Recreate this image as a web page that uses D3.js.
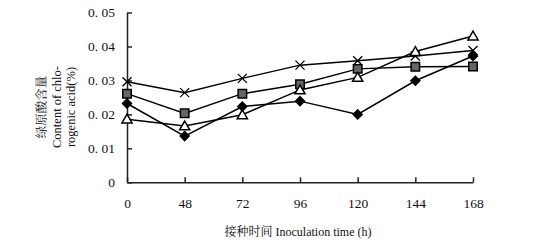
<!DOCTYPE html>
<html>
<head>
<meta charset="utf-8">
<script src="https://cdn.jsdelivr.net/npm/d3@7"></script>
<style>
  body { margin: 0; background: #fff; }
  text { font-family: "Liberation Serif", "Noto Serif CJK SC", "Noto Sans CJK SC", serif; fill: #111; }
</style>
</head>
<body>
<svg id="chart" width="536" height="247"></svg>
<script>
// inoculation time (h)
const hours = ['0', '48', '72', '96', '120', '144', '168']
const yTicks = [0, 0.01, 0.02, 0.03, 0.04, 0.05]

// chlorogenic acid content (%) for the four treatments
const crossSeries    = [0.0296, 0.0264, 0.0306, 0.0345, 0.0358, 0.0372, 0.0388]
const squareSeries   = [0.0261, 0.0203, 0.0261, 0.0289, 0.0334, 0.0340, 0.0341]
const diamondSeries  = [0.0232, 0.0136, 0.0223, 0.0239, 0.0200, 0.0299, 0.0372]
const triangleSeries = [0.0186, 0.0166, 0.0199, 0.0272, 0.0309, 0.0385, 0.0431]

const margin = {top: 12.5, left: 127, right: 63, bottom: 64.7}
const width = 536 - margin.left - margin.right
const height = 247 - margin.top - margin.bottom

const svg = d3.select('#chart')
const chart = svg.append('g')
  .attr('transform', `translate(${margin.left}, ${margin.top})`)

const xScale = d3.scalePoint()
  .domain(hours)
  .range([0, width])

const yScale = d3.scaleLinear()
  .domain([0, 0.05])
  .range([height, 0])

// axes: ticks point inward, as in the original
const yAxis = chart.append('g')
  .call(d3.axisLeft(yScale)
    .tickValues(yTicks)
    .tickSizeInner(-5)
    .tickSizeOuter(0)
    .tickPadding(12)
    .tickFormat(d => d === 0 ? '0' : d3.format('.2f')(d).replace('.', '. '))
  )
yAxis.selectAll('text').style('font-size', '13.5px')

const xAxis = chart.append('g')
  .attr('transform', `translate(0, ${height})`)
  .call(d3.axisBottom(xScale)
    .tickSizeInner(-5)
    .tickSizeOuter(0)
    .tickPadding(16)
  )
xAxis.selectAll('text').style('font-size', '13.5px')

svg.selectAll('.domain, .tick line')
  .attr('stroke', '#222')
  .attr('stroke-width', 1.5)

const line = d3.line()
  .x((d, i) => xScale(hours[i]))
  .y(d => yScale(d))

const series = [
  {values: crossSeries, marker: 'cross'},
  {values: squareSeries, marker: 'square'},
  {values: diamondSeries, marker: 'diamond'},
  {values: triangleSeries, marker: 'triangle'}
]

series.forEach(s => {
  chart.append('path')
    .datum(s.values)
    .attr('d', line)
    .attr('fill', 'none')
    .attr('stroke', '#000')
    .attr('stroke-width', 1.5)
})

const symbols = {
  cross: d3.symbol().type(d3.symbolX).size(55),
  square: d3.symbol().type(d3.symbolSquare).size(72),
  diamond: d3.symbol().type(d3.symbolSquare).size(40),
  triangle: d3.symbol().type(d3.symbolTriangle).size(45)
}

series.forEach(s => {
  const g = chart.append('g')
  g.selectAll('path')
    .data(s.values)
    .enter()
    .append('path')
      .attr('transform', (d, i) => `translate(${xScale(hours[i])}, ${yScale(d) + (s.marker === 'triangle' ? 1 : 0)})` +
        (s.marker === 'diamond' ? ' rotate(45)' : ''))
      .attr('d', symbols[s.marker])
      .attr('fill', s.marker === 'square' ? '#666' : s.marker === 'triangle' ? '#fff' : '#000')
      .attr('stroke', '#000')
      .attr('stroke-width', s.marker === 'cross' ? 1.3 : 1.5)
})

// y title, three lines rotated
const yTitle = ['绿原酸含量', 'Content of chlo-', 'rogenic acid(%)']
svg.append('g')
  .attr('transform', 'translate(0, 107) rotate(-90)')
  .selectAll('text')
  .data(yTitle)
  .enter()
  .append('text')
    .attr('x', 0)
    .attr('y', (d, i) => 46 + i * 14.5)
    .attr('text-anchor', 'middle')
    .style('font-size', '12.5px')
    .text(d => d)

svg.append('text')
  .attr('x', 298)
  .attr('y', 236)
  .attr('text-anchor', 'middle')
  .style('font-size', '12px')
  .text('接种时间  Inoculation time (h)')
</script>
</body>
</html>
